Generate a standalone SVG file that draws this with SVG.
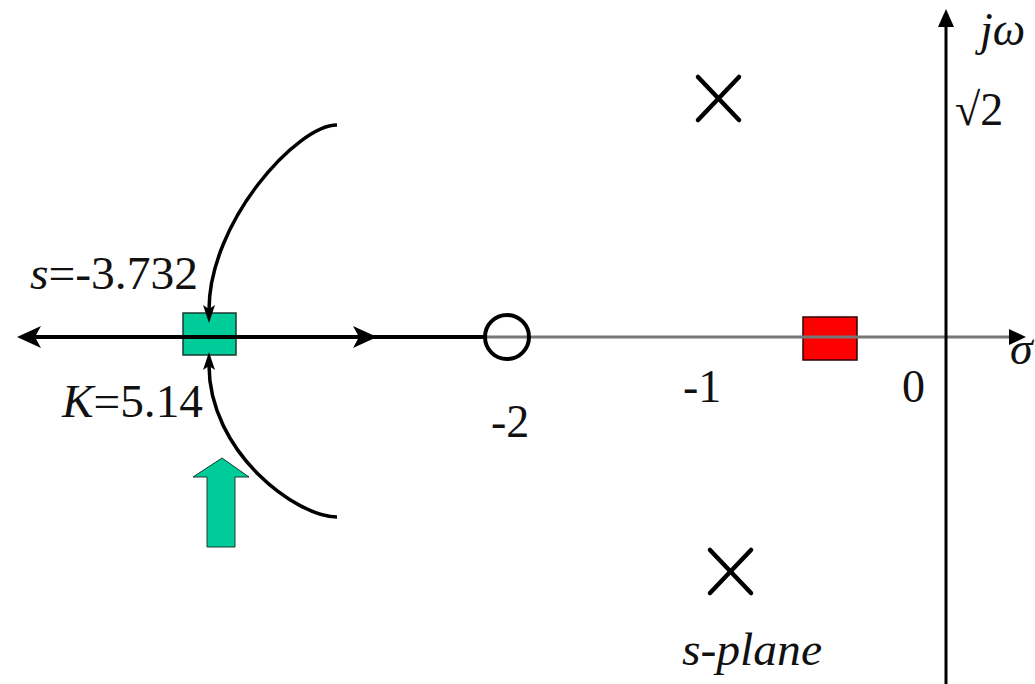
<svg xmlns="http://www.w3.org/2000/svg" width="1035" height="684" viewBox="0 0 1035 684">
<style>
.ax{stroke:#777;stroke-width:3;fill:none}
.loc{stroke:#000;stroke-width:4;fill:none}
.arc{stroke:#000;stroke-width:3.5;fill:none}
.x{stroke:#000;stroke-width:4.5;stroke-linecap:round}
.head{fill:#000}
</style>
<rect width="1035" height="684" fill="#fff"/>
<g id="markers">
  <rect id="breakaway" x="183" y="313" width="53" height="42" fill="#00CC99" stroke="#1a3a30" stroke-width="1.5"/>
  <rect id="pole-real" x="803" y="317" width="54" height="43" fill="#FF0000" stroke="#300" stroke-width="1.5"/>
  <polygon id="green-arrow" points="222,458 249,477 235,477 235,547 207,547 207,477 193,477" fill="#00CC99" stroke="#1a3a30" stroke-width="1"/>
</g>
<g id="axes">
  <line class="ax" x1="485" y1="337" x2="1012" y2="337"/>
  <polygon class="head" points="1026,337 1009,329 1009,345"/>
  <line x1="946" y1="684" x2="946" y2="24" stroke="#000" stroke-width="3"/>
  <polygon class="head" points="946,9 938,27 954,27"/>
</g>
<g id="connectors">
  <line class="loc" x1="30" y1="337" x2="485" y2="337"/>
  <path class="head" d="M17,337 L41,326 L35,337 L41,348 Z"/>
  <path class="head" d="M377,337 L353,326 L359,337 L353,348 Z"/>
  <path class="arc" d="M337,125 C297,125 209,222 209,310"/>
  <path class="head" d="M209,323 L203,305 L209,309 L215,305 Z"/>
  <path class="arc" d="M337,517 C297,517 209,453 209,365"/>
  <path class="head" d="M209,352 L203,370 L209,366 L215,370 Z"/>
</g>
<g id="zero">
  <circle cx="507" cy="337" r="22" fill="none" stroke="#000" stroke-width="4"/>
</g>
<g id="pole-upper">
  <line class="x" x1="698" y1="77" x2="739" y2="120"/>
  <line class="x" x1="739" y1="77" x2="698" y2="120"/>
</g>
<g id="pole-lower">
  <line class="x" x1="710" y1="550" x2="751" y2="593"/>
  <line class="x" x1="751" y1="550" x2="710" y2="593"/>
</g>
<g id="labels" fill="#111">
  <text font-family="Liberation Serif" font-size="46" x="30" y="289" textLength="168" lengthAdjust="spacingAndGlyphs"><tspan font-style="italic">s</tspan>=-3.732</text>
  <text font-family="Liberation Serif" font-size="46" x="62" y="417" textLength="141" lengthAdjust="spacingAndGlyphs"><tspan font-style="italic">K</tspan>=5.14</text>
  <text font-family="Liberation Serif" font-size="46" x="491" y="437">-2</text>
  <text font-family="Liberation Serif" font-size="46" x="683" y="402">-1</text>
  <text font-family="Liberation Serif" font-size="46" x="902" y="402">0</text>
  <text font-family="Liberation Serif" font-size="46" font-style="italic" x="1010" y="364">σ</text>
  <text font-family="Liberation Serif" font-size="46" font-style="italic" x="980" y="45">jω</text>
  <text font-family="Liberation Serif" font-size="46" x="955" y="125">√2</text>
  <text font-family="Liberation Serif" font-size="46" font-style="italic" x="682" y="665" textLength="140" lengthAdjust="spacingAndGlyphs">s-plane</text>
</g>
</svg>
